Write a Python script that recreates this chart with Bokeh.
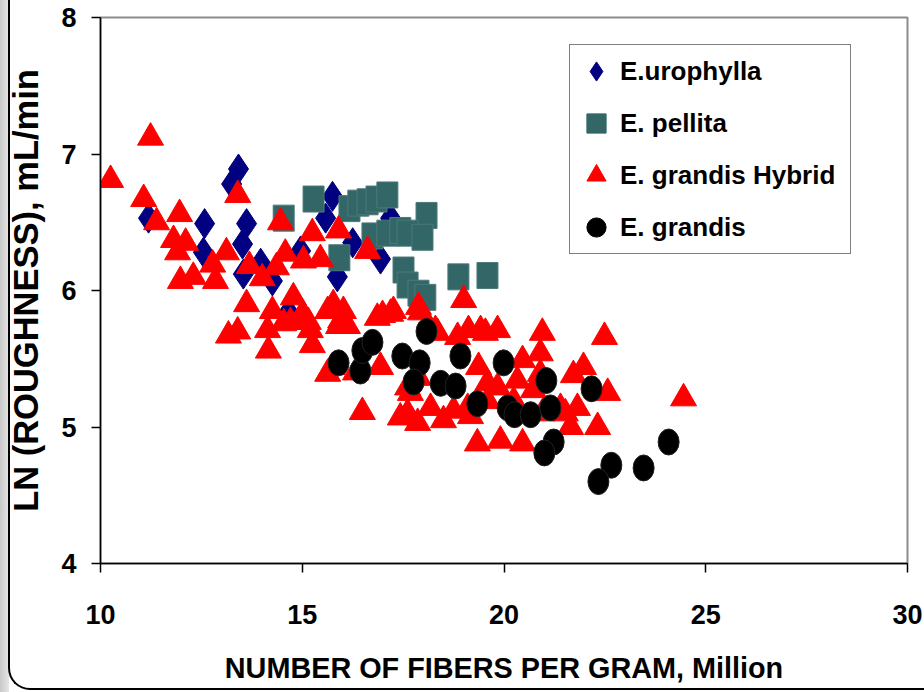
from bokeh.plotting import figure
from bokeh.models import Legend, LegendItem, FixedTicker, InlineStyleSheet
from bokeh.embed import file_html
from bokeh.resources import INLINE

# Number of fibers per gram (million) vs. ln(roughness), by species
uro_x = [11.19, 12.55, 12.58, 13.25, 13.42, 13.62, 13.52, 13.54, 13.97, 14.26,
         14.66, 14.96, 15.58, 15.75, 15.87, 16.25, 16.94, 17.19]
uro_y = [6.53, 6.28, 6.49, 6.78, 6.89, 6.49, 6.34, 6.12, 6.20, 6.07,
         5.84, 6.29, 6.53, 6.69, 6.10, 6.35, 6.23, 6.53]

pel_x = [14.54, 15.28, 16.17, 16.39, 16.62, 16.84, 17.11, 18.08, 15.92, 16.74,
         17.11, 17.43, 17.61, 17.98, 17.51, 17.61, 17.88, 18.05, 18.87, 19.59]
pel_y = [6.53, 6.67, 6.60, 6.64, 6.65, 6.67, 6.70, 6.55, 6.24, 6.40,
         6.42, 6.44, 6.42, 6.39, 6.15, 6.04, 5.98, 5.95, 6.10, 6.11]

hyb_x = [10.25, 11.24, 11.07, 11.39, 11.96, 11.81, 12.11, 11.91, 11.98, 12.30,
         12.78, 12.85, 13.12, 13.40, 13.69, 14.01, 14.46, 14.58, 14.36, 15.03,
         15.25, 15.45, 15.90, 16.62, 13.17, 13.40, 13.62, 14.26, 14.78, 14.54,
         15.01, 14.14, 15.20, 15.77, 16.02, 16.12, 15.63, 16.86, 14.16, 14.71,
         15.15, 15.25, 15.90, 15.75, 16.99, 17.26, 16.49, 17.43, 15.95, 17.93,
         18.35, 19.00, 18.85, 19.12, 19.42, 19.54, 19.84, 20.95, 20.90, 22.49,
         20.46, 19.37, 17.61, 18.18, 18.50, 19.34, 19.91, 20.46, 21.72, 21.97,
         22.57, 22.32, 21.65, 20.90, 21.40, 21.82, 19.59, 19.84, 19.10, 18.75,
         17.68, 17.88, 20.33, 20.73, 24.45, 17.88, 17.19, 19.59, 19.17, 20.24,
         17.86, 17.61, 20.95, 21.52, 18.30, 15.63, 16.94, 16.32]
hyb_y = [6.81, 7.12, 6.67, 6.50, 6.56, 6.37, 6.35, 6.28, 6.07, 6.10,
         6.19, 6.07, 6.28, 6.70, 6.18, 6.09, 6.50, 6.27, 6.17, 6.22,
         6.42, 6.23, 6.44, 6.29, 5.67, 5.70, 5.90, 5.85, 5.95, 5.76,
         5.83, 5.71, 5.71, 5.90, 5.85, 5.74, 5.85, 5.80, 5.56, 5.77,
         5.77, 5.60, 5.74, 5.44, 5.82, 5.85, 5.11, 5.07, 5.78, 5.84,
         5.69, 5.93, 5.66, 5.71, 5.71, 5.69, 5.71, 5.69, 5.54, 5.66,
         5.49, 5.44, 5.10, 5.14, 5.05, 4.88, 4.90, 4.88, 5.38, 5.44,
         5.25, 5.00, 5.00, 5.39, 5.14, 5.14, 5.19, 5.29, 5.14, 5.12,
         5.25, 5.36, 5.34, 5.27, 5.21, 5.88, 5.83, 5.32, 5.08, 5.19,
         5.03, 5.29, 5.10, 5.10, 5.71, 5.39, 5.44, 5.40]

gra_x = [15.90, 16.44, 16.49, 16.74, 17.48, 17.91, 17.76, 18.08, 18.43, 18.80,
         18.92, 19.34, 19.99, 20.09, 20.26, 20.66, 21.05, 21.15, 21.23, 21.00,
         22.17, 22.66, 22.34, 23.46, 24.08]
gra_y = [5.47, 5.41, 5.56, 5.62, 5.52, 5.47, 5.33, 5.70, 5.32, 5.30,
         5.52, 5.17, 5.47, 5.14, 5.09, 5.09, 5.34, 5.14, 4.89, 4.81,
         5.28, 4.72, 4.60, 4.70, 4.89]

x_ticks = [10, 15, 20, 25, 30]
y_ticks = [4, 5, 6, 7, 8]
series_names = ["E.urophylla", "E. pellita", "E. grandis Hybrid", "E. grandis"]

FONT = "Liberation Sans"
NAVY, TEAL, RED, BLACK = "#000080", "#336666", "#FF0000", "#000000"

# gray page edge on the left and a rounded black frame around the chart
frame_css = InlineStyleSheet(css="""
:host::before {
  content: ""; position: absolute; z-index: 20; pointer-events: none;
  left: 0; top: 0; bottom: 0; width: 9px;
  background: linear-gradient(to right, #c8c8c8, #e6e6e6);
}
:host::after {
  content: ""; position: absolute; z-index: 21; pointer-events: none;
  left: 8px; right: 0; top: 0; bottom: 2px;
  border-left: 2.5px solid black; border-bottom: 2.5px solid black;
  border-bottom-left-radius: 22px;
}
""")

p = figure(width=924, height=692, x_range=(10, 30), y_range=(4, 8),
           output_backend="svg", toolbar_location=None,
           min_border_left=100, min_border_right=17,
           min_border_top=17, min_border_bottom=129,
           stylesheets=[frame_css])
p.background_fill_color = "white"
p.border_fill_color = "white"
p.outline_line_color = "#8c8c8c"
p.outline_line_width = 2
p.grid.visible = False

for ax in (p.xaxis[0], p.yaxis[0]):
    ax.axis_line_color = "black"
    ax.axis_line_width = 1.5
    ax.major_tick_line_color = "black"
    ax.major_tick_line_width = 1.5
    ax.major_tick_out = 9
    ax.major_tick_in = 0
    ax.minor_tick_line_color = None
    ax.major_label_text_font = FONT
    ax.major_label_text_font_style = "bold"
    ax.major_label_text_font_size = "27px"
    ax.major_label_text_color = "black"
    ax.axis_label_text_font = FONT
    ax.axis_label_text_font_style = "bold"
    ax.axis_label_text_color = "black"

p.xaxis.ticker = FixedTicker(ticks=x_ticks)
p.yaxis.ticker = FixedTicker(ticks=y_ticks)
p.xaxis.axis_label = "NUMBER OF FIBERS PER GRAM, Million"
p.yaxis.axis_label = "LN (ROUGHNESS), mL/min"
p.xaxis.axis_label_text_font_size = "28.8px"
p.yaxis.axis_label_text_font_size = "34.5px"
p.xaxis.major_label_standoff = 32
p.xaxis.axis_label_standoff = 25
p.yaxis.major_label_standoff = 15
p.yaxis.axis_label_standoff = 13

# data marks
r_uro = p.scatter(uro_x, uro_y, marker="diamond", size=30,
                  fill_color=NAVY, line_color=NAVY)
p.rect(pel_x, pel_y, width=21, height=26, width_units="screen",
       height_units="screen", fill_color=TEAL, line_color="#4d7a7a",
       line_width=1)
r_hyb = p.scatter(hyb_x, hyb_y, marker="triangle", size=26,
                  fill_color=RED, line_color=RED)
p.ellipse(gra_x, gra_y, width=21, height=26, width_units="screen",
          height_units="screen", fill_color=BLACK, line_color="#222222")

# zero-size markers carry the square and round legend keys
k_pel = p.scatter(pel_x, pel_y, marker="square", size=0,
                  fill_color=TEAL, line_color=TEAL)
k_gra = p.scatter(gra_x, gra_y, marker="circle", size=0,
                  fill_color=BLACK, line_color=BLACK)

items = [LegendItem(label=name, renderers=[r])
         for name, r in zip(series_names, [r_uro, k_pel, r_hyb, k_gra])]

legend = Legend(items=items, location=(469, 309),
                glyph_width=48, glyph_height=48, spacing=4, padding=2,
                label_standoff=0, label_width=228, margin=0,
                label_text_font=FONT, label_text_font_style="bold",
                label_text_font_size="26px", label_text_color="black",
                border_line_color="black", border_line_width=1.5,
                background_fill_color="white", background_fill_alpha=1)
p.add_layout(legend)

open("out.html", "w").write(file_html(p, INLINE))
